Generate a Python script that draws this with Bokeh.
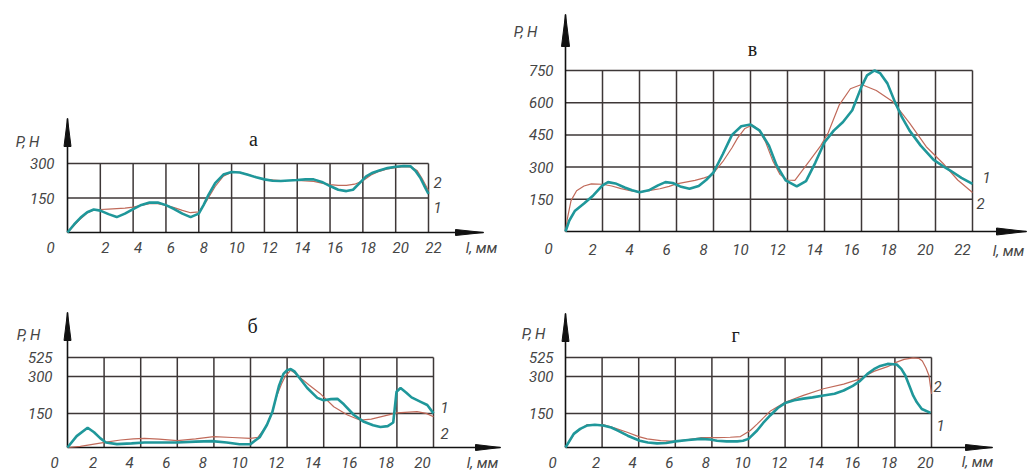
import numpy as np
from bokeh.plotting import figure
from bokeh.layouts import row, column
from bokeh.models import Range1d
from bokeh.core.properties import value
from bokeh.embed import file_html
from bokeh.resources import INLINE

# ---------------- data ----------------
# panel "а"
A_XTICKS = [2, 4, 6, 8, 10, 12, 14, 16, 18, 20, 22]
A_YTICKS = [150, 300]
A1_X = [0, 0.4, 0.8, 1.2, 1.6, 2.0, 2.5, 3.0, 3.5, 4.0, 4.5, 5.0, 5.5, 6.0, 6.5, 7.0, 7.5, 8.0, 8.3, 8.6,
        9.0, 9.5, 10.0, 10.5, 11.0, 11.5, 12.0, 12.5, 13.0, 13.5, 14.0, 14.5, 15.0, 15.5, 16.0, 16.5, 17.0,
        17.4, 17.8, 18.2, 18.6, 19.0, 19.5, 20.0, 20.5, 20.9, 21.2, 21.5, 21.8, 22.0]
A1_Y = [0, 35, 65, 88, 100, 95, 80, 67, 82, 102, 120, 130, 130, 119, 102, 82, 67, 82, 120, 165,
        215, 252, 263, 261, 251, 240, 231, 225, 224, 226, 228, 231, 231, 220, 202, 186, 180,
        186, 215, 244, 260, 270, 280, 286, 289, 288, 268, 238, 195, 168]
A2_X = [0, 0.4, 0.8, 1.2, 1.6, 2.0, 2.5, 3.0, 3.5, 4.0, 4.5, 5.0, 5.5, 6.0, 6.5, 7.0, 7.5, 8.0, 8.5, 9.0,
        9.5, 10.0, 10.5, 11.0, 11.5, 12.0, 13.0, 14.0, 15.0, 15.5, 16.0, 16.5, 17.0, 17.5, 18.0, 18.5,
        19.0, 19.5, 20.0, 20.5, 21.0, 21.3, 21.6, 22.0]
A2_Y = [0, 30, 60, 85, 98, 100, 102, 104, 106, 110, 118, 125, 125, 118, 108, 96, 86, 90, 140, 200,
        245, 262, 262, 252, 240, 231, 226, 226, 222, 215, 208, 205, 205, 210, 225, 250,
        266, 276, 282, 286, 284, 270, 236, 182]

# panel "в"
V_XTICKS = [2, 4, 6, 8, 10, 12, 14, 16, 18, 20, 22]
V_YTICKS = [150, 300, 450, 600, 750]
V1_X = [0, 0.2, 0.5, 1.0, 1.5, 2.0, 2.3, 2.7, 3.2, 3.6, 4.0, 4.5, 5.0, 5.4, 5.8, 6.2, 6.7, 7.2, 7.6, 8.0,
        8.5, 9.0, 9.5, 10.0, 10.5, 11.0, 11.4, 11.9, 12.5, 13.0, 13.5, 14.0, 14.5, 15.0, 15.5, 16.0,
        16.3, 16.7, 17.0, 17.4, 17.8, 18.2, 18.6, 19.2, 19.9, 20.4, 20.8, 21.4, 22.0]
V1_Y = [0, 50, 95, 130, 168, 215, 230, 224, 205, 192, 183, 192, 215, 230, 226, 210, 199, 212, 240, 275,
        360, 450, 490, 498, 470, 400, 310, 238, 210, 235, 320, 416, 470, 510, 565, 675,
        727, 750, 738, 690, 605, 530, 470, 400, 334, 305, 284, 250, 222]
V2_X = [0, 0.1, 0.3, 0.6, 1.0, 1.4, 2.0, 2.5, 3.0, 3.5, 4.0, 4.5, 5.1, 5.6, 6.0, 6.5, 7.0, 7.5, 7.9, 8.5,
        9.0, 9.3, 9.7, 10.1, 10.4, 10.8, 11.2, 11.6, 12.0, 12.4, 13.2, 13.8, 14.2, 14.8, 15.4, 16.0,
        16.8, 17.7, 18.6, 19.5, 20.4, 21.2, 22.0]
V2_Y = [0, 60, 144, 190, 212, 222, 220, 212, 200, 190, 183, 190, 199, 210, 222, 230, 238, 250, 262, 325,
        390, 435, 480, 496, 478, 420, 330, 265, 240, 238, 330, 400, 460, 590, 665, 685,
        657, 605, 505, 395, 318, 240, 182]

# panel "б"
B_XTICKS = [2, 4, 6, 8, 10, 12, 14, 16, 18, 20]
B_YTICKS = [150, 300, 525]
B1_X = [0, 0.5, 1.1, 1.45, 1.8, 2.1, 2.7, 3.5, 4.2, 5.0, 6.0, 7.0, 7.9, 8.7, 9.4, 10.0, 10.5, 10.9, 11.2,
        11.55, 11.8, 12.0, 12.2, 12.4, 12.65, 13.1, 13.65, 14.0, 14.4, 14.75, 15.1, 15.65, 16.2, 16.7,
        17.1, 17.5, 17.8, 17.98, 18.2, 18.5, 18.8, 19.3, 19.66, 20.0]
B1_Y = [0, 50, 87, 67, 40, 22, 15, 18, 22, 22, 22, 26, 28, 22, 14, 15, 45, 100, 157,
        260, 330, 375, 387, 360, 297, 253, 213, 203, 208, 209, 187, 143, 113, 98,
        90, 94, 110, 238, 253, 235, 215, 197, 184, 150]
B2_X = [0, 0.7, 1.45, 2.2, 2.9, 3.6, 4.2, 5.0, 6.0, 7.0, 8.0, 9.0, 10.0, 10.4, 10.9, 11.2, 11.45, 11.7,
        11.9, 12.2, 12.5, 12.8, 13.2, 13.8, 14.55, 15.3, 16.0, 16.6, 17.1, 18.0, 19.1, 19.6, 20.0]
B2_Y = [0, 5, 15, 25, 33, 38, 40, 37, 30, 38, 48, 44, 40, 45, 97, 160, 224, 270,
        302, 375, 330, 290, 265, 231, 177, 143, 120, 125, 135, 152, 157, 150, 135]

# panel "г"
G_XTICKS = [2, 4, 6, 8, 10, 12, 14, 16, 18, 20]
G_YTICKS = [150, 300, 525]
G1_X = [0, 0.45, 0.8, 1.2, 1.6, 2.06, 2.5, 2.83, 3.4, 4.06, 4.5, 5.0, 5.5, 6.0, 6.7, 7.38, 7.9, 8.28, 8.8,
        9.38, 9.7, 10.0, 10.47, 10.8, 11.2, 11.6, 12.0, 12.5, 13.0, 13.5, 14.1, 14.7, 15.2, 15.7, 16.1,
        16.5, 16.85, 17.2, 17.6, 18.1, 18.35, 18.57, 18.8, 19.0, 19.2, 19.47, 19.95]
G1_Y = [0, 60, 82, 97, 100, 97, 88, 75, 52, 30, 22, 18, 20, 27, 33, 38, 35, 30, 27,
        27, 30, 38, 75, 108, 142, 172, 192, 203, 210, 215, 223, 230, 243, 262, 282,
        330, 386, 425, 449, 442, 390, 311, 260, 222, 195, 168, 152]
G2_X = [0, 0.5, 1.19, 2.06, 2.7, 3.37, 4.0, 4.46, 5.2, 6.0, 6.7, 7.38, 8.28, 9.0, 9.56, 10.1, 10.47, 11.2,
        12.0, 13.0, 14.1, 15.2, 16.1, 16.5, 16.85, 17.6, 18.1, 18.5, 19.0, 19.3, 19.5, 19.7, 19.86, 20.0]
G2_Y = [0, 62, 101, 101, 85, 67, 48, 38, 30, 27, 35, 43, 43, 45, 48, 75, 103, 160,
        195, 223, 250, 269, 290, 320, 360, 416, 470, 503, 520, 515, 483, 400, 311, 229]

# non-uniform value scale of panels "б" and "г" (grid rows are unequal)
WARP_N = [0, 150, 300, 525]
WARP_D = [0, 144, 300, 380]

# ---------------- styles ----------------
TEAL = "#1f979a"
RED = "#c06a5a"
GRID = "#3d3737"
INK = "#111111"
LBL = "#454545"
FONT = value("Roboto")
SERIF = value("Liberation Serif")


def ident(v):
    return np.asarray(v, dtype=float)


def warp(v):
    return np.interp(np.asarray(v, dtype=float), WARP_N, WARP_D)


def make_panel(cfg, xticks, yticks, c1x, c1y, c2x, c2y, title, fy=ident):
    fx, fyy, fw, fh = cfg["frame"]
    ox, oy = cfg["origin"]
    sx, sy = cfg["sx"], cfg["sy"]
    p = figure(width=fw, height=fh,
               x_range=Range1d((fx - ox) / sx, (fx + fw - ox) / sx),
               y_range=Range1d((oy - (fyy + fh)) / sy, (oy - fyy) / sy),
               title=None, output_backend="svg", toolbar_location=None,
               x_axis_location=None, y_axis_location=None, min_border=0,
               outline_line_color=None, background_fill_color="white",
               border_fill_color="white")
    p.grid.visible = False

    def dx(px):
        return px / sx

    def dy(px):
        return -px / sy

    xmax = xticks[-1]
    ytd = list(fy(yticks))
    ymax = ytd[-1]

    # grid
    p.segment(x0=xticks, y0=[0] * len(xticks), x1=xticks, y1=[ymax] * len(xticks),
              line_color=GRID, line_width=1.5)
    p.segment(x0=[0] * len(ytd), y0=ytd, x1=[xmax] * len(ytd), y1=ytd,
              line_color=GRID, line_width=1.5)

    # axes with arrows
    yt = dy(-cfg["ytip"])
    xt = dx(cfg["xtip"])
    p.segment(x0=[0, 0], y0=[0, 0], x1=[0, xt], y1=[yt, 0], line_color=INK, line_width=1.6)
    L, W = cfg["yhead"]
    L2, W2 = cfg["xhead"]
    p.patches(xs=[[0, -dx(W), dx(W)], [xt, xt - dx(L2), xt - dx(L2)]],
              ys=[[yt, yt - L / sy, yt - L / sy], [0, W2 / sy, -W2 / sy]],
              fill_color=INK, line_color=INK, line_width=1)

    # curves
    p.line(c2x, list(fy(c2y)), line_color=RED, line_width=1.2)
    p.line(c1x, list(fy(c1y)), line_color=TEAL, line_width=2.6)

    common = dict(text_font=FONT, text_font_style="italic", text_font_size="15px",
                  text_color=LBL, text_baseline="middle")
    # tick labels
    p.text(x=xticks, y=[0] * len(xticks), text=[str(t) for t in xticks],
           x_offset=cfg["xlab_dx"], y_offset=cfg["xlab_dy"], text_align="center", **common)
    p.text(x=[0] * len(ytd), y=ytd, text=[str(t) for t in yticks],
           x_offset=cfg["ylab_dx"], y_offset=0, text_align="right", **common)
    p.text(x=[0], y=[0], text=["0"], x_offset=cfg["zero"][0], y_offset=cfg["zero"][1],
           text_align="center", **common)

    # axis names, curve numbers
    for key, txt in (("pn", "P, H"), ("lmm", "l, мм"), ("n1", "1"), ("n2", "2")):
        ax, ay = cfg[key]
        p.text(x=[dx(ax)], y=[dy(ay)], text=[txt], text_align="center", **common)
    tx, ty = cfg["title"]
    p.text(x=[dx(tx)], y=[dy(ty)], text=[title], text_align="center", text_baseline="middle",
           text_font=SERIF, text_font_size="20px", text_color="#1a1a1a")
    return p


CFG_A = dict(frame=(0, 0, 513, 308), origin=(67, 232), sx=(428 - 67) / 22, sy=(232 - 163) / 300,
             ytip=114, yhead=(28, 3.5), xtip=416, xhead=(28, 3),
             xlab_dx=5, xlab_dy=15, ylab_dx=-13, zero=(-17, 15),
             pn=(-40, -91), lmm=(414, 15), n1=(370, -25), n2=(370, -50), title=(186, -94))
CFG_V = dict(frame=(513, 0, 517, 308), origin=(565, 231), sx=(972 - 565) / 22, sy=(231 - 70) / 750,
             ytip=217, yhead=(32, 4), xtip=461, xhead=(30, 3.5),
             xlab_dx=-10, xlab_dy=18, ylab_dx=-12, zero=(-17, 17),
             pn=(-40, -200), lmm=(443, 19), n1=(421, -54), n2=(415, -28), title=(187, -183))
CFG_B = dict(frame=(0, 308, 513, 164), origin=(67, 447), sx=(433 - 67) / 20, sy=90 / 380,
             ytip=135, yhead=(28, 3.5), xtip=433, xhead=(25, 3),
             xlab_dx=-11, xlab_dy=15, ylab_dx=-15, zero=(-13, 15),
             pn=(-39, -113), lmm=(415, 15), n1=(377, -40), n2=(377, -14), title=(185, -122))
CFG_G = dict(frame=(513, 308, 517, 164), origin=(565, 447), sx=(931 - 565) / 20, sy=90 / 380,
             ytip=134, yhead=(28, 3.5), xtip=427, xhead=(27, 3),
             xlab_dx=-6, xlab_dy=15, ylab_dx=-12, zero=(-13, 15),
             pn=(-32, -114), lmm=(412, 14), n1=(375, -22), n2=(372, -61), title=(170, -113))

pa = make_panel(CFG_A, A_XTICKS, A_YTICKS, A1_X, A1_Y, A2_X, A2_Y, "а")
pv = make_panel(CFG_V, V_XTICKS, V_YTICKS, V1_X, V1_Y, V2_X, V2_Y, "в")
pb = make_panel(CFG_B, B_XTICKS, B_YTICKS, B1_X, B1_Y, B2_X, B2_Y, "б", fy=warp)
pg = make_panel(CFG_G, G_XTICKS, G_YTICKS, G1_X, G1_Y, G2_X, G2_Y, "г", fy=warp)

layout = column(row(pa, pv, spacing=0), row(pb, pg, spacing=0), spacing=0)
open("out.html", "w").write(file_html(layout, INLINE))
